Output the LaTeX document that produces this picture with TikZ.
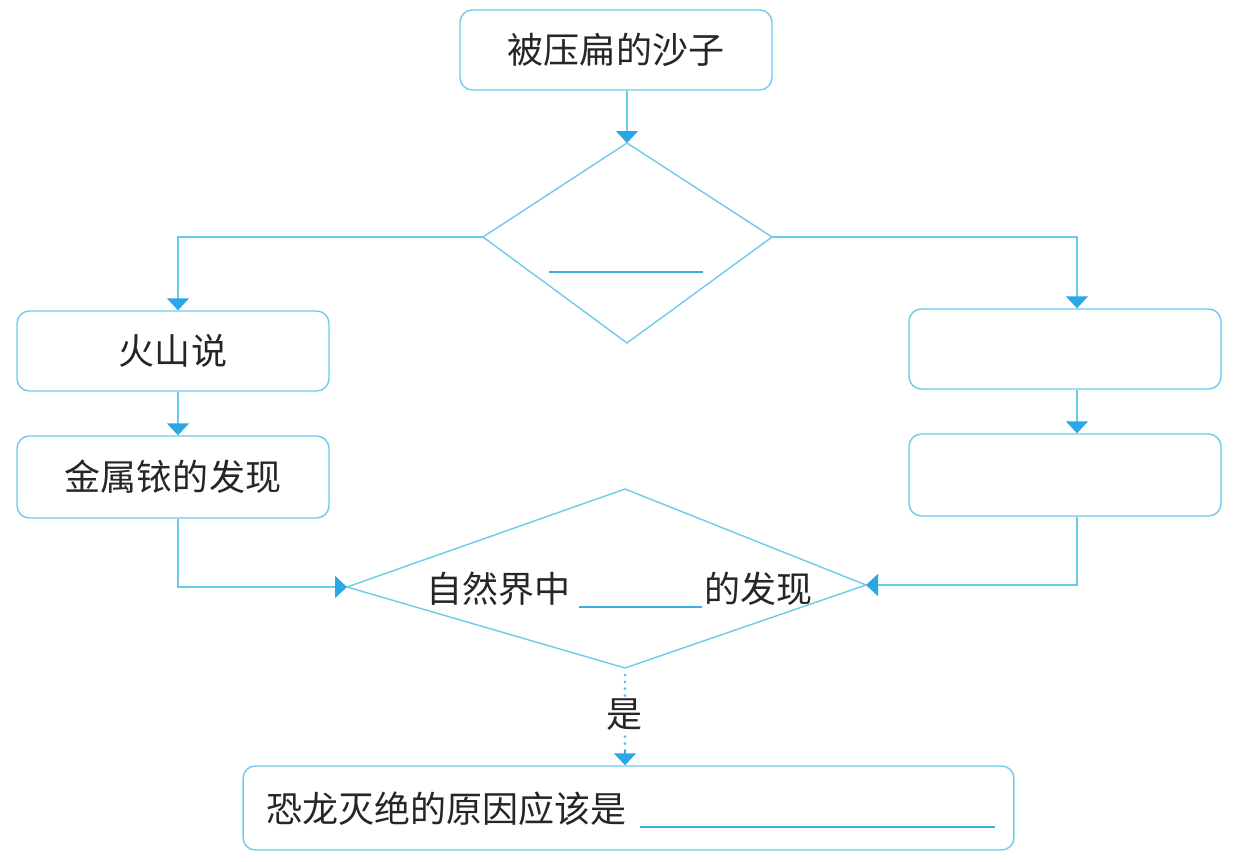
\documentclass[tikz,border=0pt]{standalone}
\usepackage{fontspec}
\newfontfamily\cjk{Noto Sans CJK SC}
\usetikzlibrary{arrows.meta,positioning}
\definecolor{boxc}{HTML}{6CCBEB}
\definecolor{arrc}{HTML}{2AA8E6}
\definecolor{blankc}{HTML}{3AAFDF}
\newcommand{\blankline}[1]{\textcolor{blankc}{\rule[-3pt]{#1}{0.9pt}}}
\begin{document}
\begin{tikzpicture}[x=0.02cm,y=-0.02cm,
  every node/.style={font=\cjk\fontsize{20.5pt}{24pt}\selectfont, text=black!85},
  boxn/.style={draw=boxc, line width=0.8pt, rounded corners=7pt, fill=white, inner sep=0pt},
  conn/.style={draw=boxc, line width=0.8pt, -{Triangle[width=0.44cm,length=0.24cm,color=arrc]}},
  diam/.style={draw=boxc, line width=0.8pt},
  dotc/.style={draw=arrc!80, line width=1.7pt, line cap=round, dash pattern=on 0pt off 3.9pt}]
\useasboundingbox (0,0) rectangle (1245,862);

% boxes
\node[boxn, minimum width=6.24cm, minimum height=1.6cm] (top) at (616,50) {被压扁的沙子};
\node[boxn, minimum width=6.24cm, minimum height=1.6cm] (L1) at (173,351) {火山说};
\node[boxn, minimum width=6.24cm, minimum height=1.64cm] (L2) at (173,477) {金属铱的发现};
\node[boxn, minimum width=6.24cm, minimum height=1.6cm] (R1) at (1065,349) {};
\node[boxn, minimum width=6.24cm, minimum height=1.64cm] (R2) at (1065,475) {};
\node[boxn, minimum width=15.42cm, minimum height=1.68cm] (bot) at (628.5,808) {};

% diamond 1
\coordinate (D1t) at (627,143);
\coordinate (D1l) at (483,237);
\coordinate (D1r) at (772,237);
\coordinate (D1b) at (627,343);
\draw[diam] (D1t) -- (D1r) -- (D1b) -- (D1l) -- cycle;
\node[inner sep=0pt] (D1blank) at (626,270) {\blankline{3.08cm}};

% diamond 2
\coordinate (D2t) at (625,489);
\coordinate (D2l) at (347,587);
\coordinate (D2r) at (866,585);
\coordinate (D2b) at (625,668);
\draw[diam] (D2t) -- (D2r) -- (D2b) -- (D2l) -- cycle;
\node[inner sep=0pt, anchor=west] (D2text) at (426,590) {自然界中\hspace{0.18cm}\blankline{2.46cm}\hspace{0.04cm}的发现};

% bottom text
\node[inner sep=0pt, anchor=west] (bottext) at (266,810) {恐龙灭绝的原因应该是\hspace{0.26cm}\blankline{7.12cm}};

% turning points
\coordinate (tl) at (178,237);
\coordinate (tr) at (1077,237);
\coordinate (bl) at (178,587);
\coordinate (br) at (1077,585);
\coordinate (ydot) at (625,751);

% connectors
\draw[conn] (top.south -| D1t) -- (D1t);
\draw[conn] (D1l) -- (tl) -- (L1.north -| tl);
\draw[conn] (D1r) -- (tr) -- (R1.north -| tr);
\draw[conn] (L1.south -| tl) -- (L2.north -| tl);
\draw[conn] (R1.south -| tr) -- (R2.north -| tr);
\draw[conn] (L2.south -| bl) -- (bl) -- (D2l);
\draw[conn] (R2.south -| br) -- (br) -- (D2r);

% dotted "yes" connector
\draw[dotc] ([yshift=-0.14cm]D2b) -- (ydot);
\draw[conn, draw=arrc] (ydot) -- (bot.north -| D2b);
\node[fill=white, inner sep=0pt, minimum height=0.56cm] (yes) at (625,715) {是};
\end{tikzpicture}
\end{document}
